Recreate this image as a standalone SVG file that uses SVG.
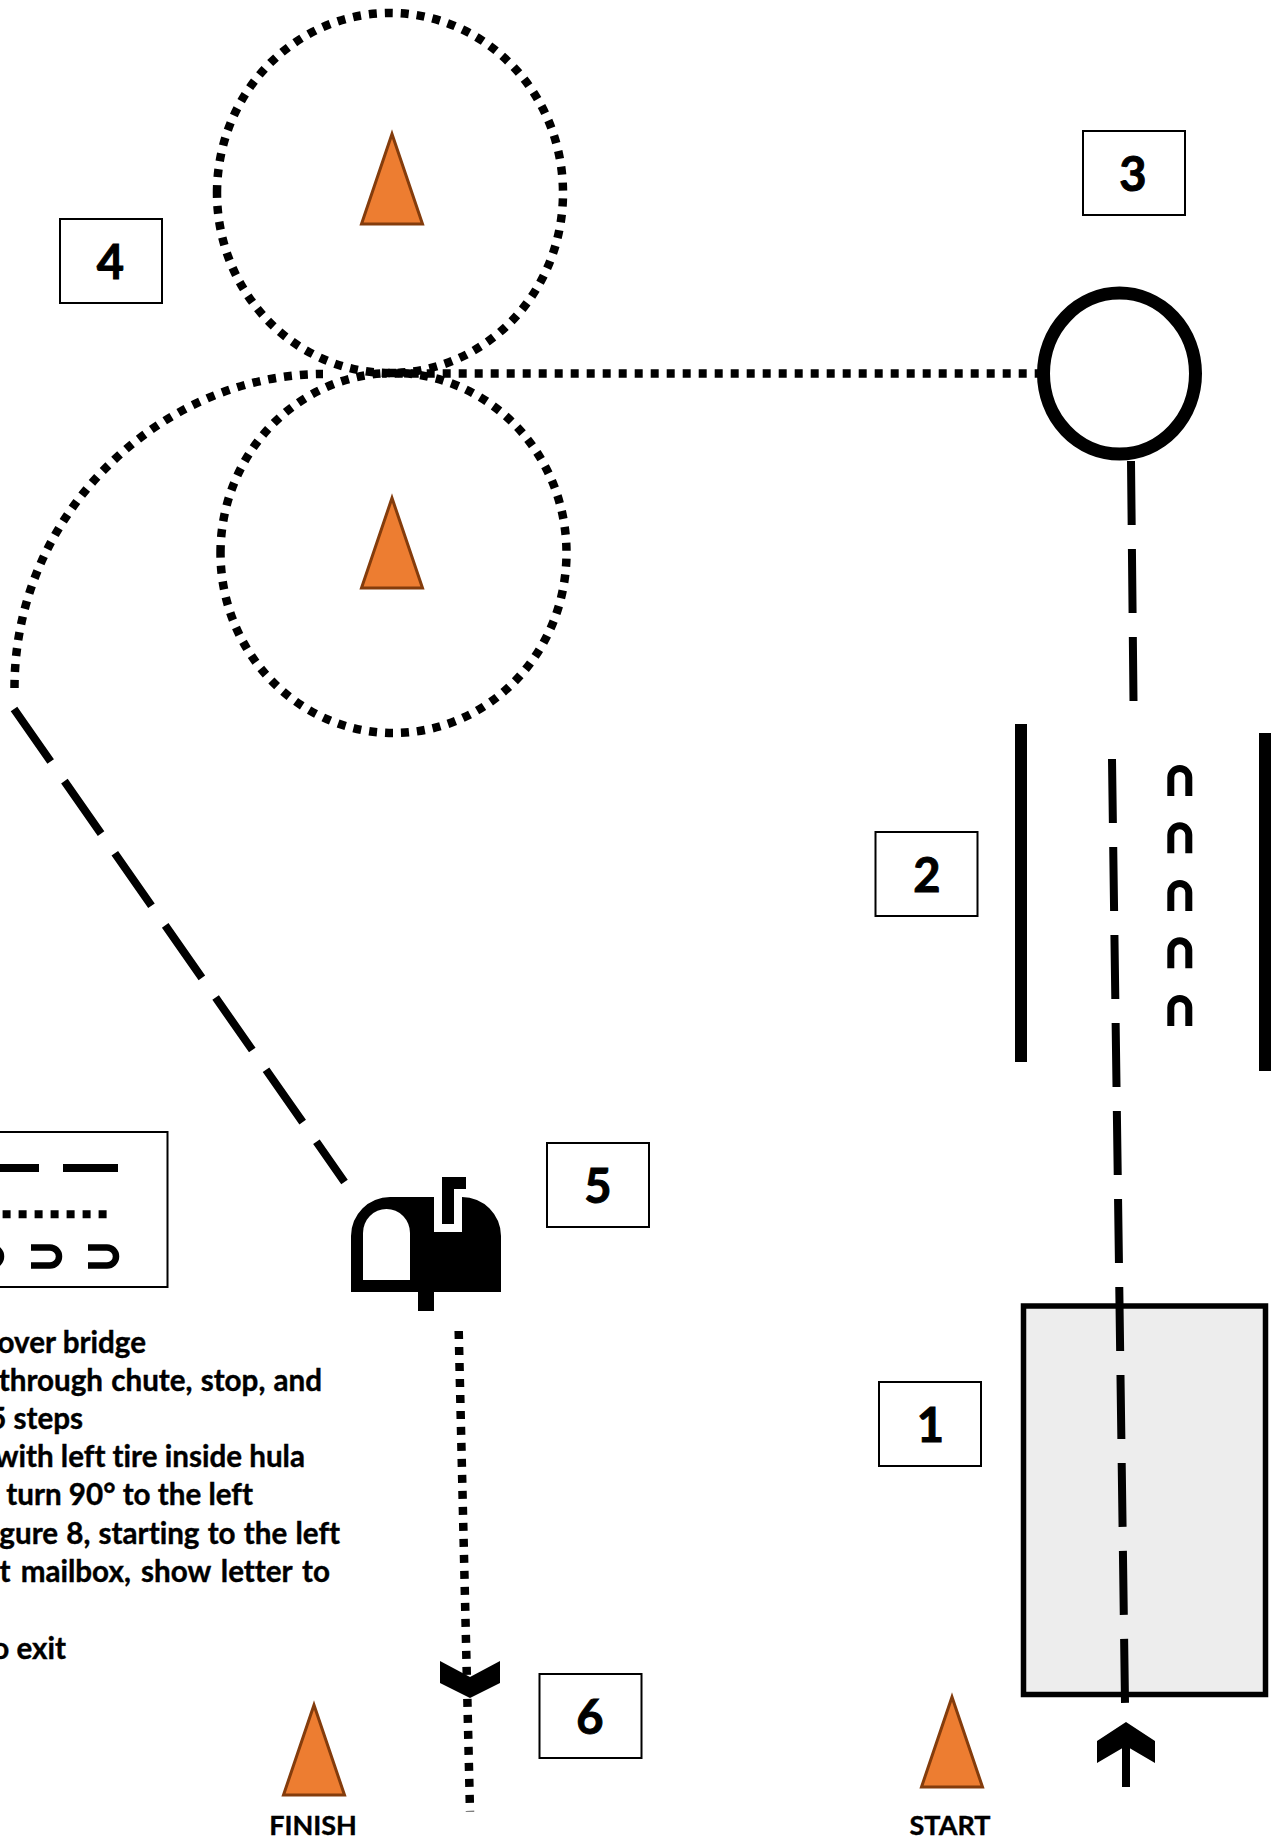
<svg xmlns="http://www.w3.org/2000/svg" width="1275" height="1838" viewBox="0 0 1275 1838">
<style>
text{font-family:"Lato","Open Sans","Liberation Sans",sans-serif;font-weight:700;fill:#000;stroke:#000;font-variant-ligatures:none}
.num{font-size:47px;text-anchor:middle;stroke-width:1}
.cap{font-size:27px;text-anchor:middle;stroke-width:.4}
.rule{font-size:29.600px;text-anchor:end;stroke-width:.4}
.box{fill:#fff;stroke:#000;stroke-width:2}
.cone{fill:#ED7D31;stroke:#843C0C;stroke-width:3}
.dot{fill:none;stroke:#000;stroke-width:8.500;stroke-dasharray:8 8}
.dash{fill:none;stroke:#000;stroke-width:8;stroke-dasharray:64 24}
.horse{fill:none;stroke:#000;stroke-width:7}
</style>
<defs>
<path id="hs" d="M0 31V12.500a9 9 0 0 1 18 0V31"/>
<path id="hr" d="M0 0H19a9 9 0 0 1 0 18H0"/>
<polygon id="cone" points="0,0 30.500,90 -30.500,90"/>
</defs>
<rect width="1275" height="1838" fill="#fff"/>
<g id="node-trailer"><rect x="1023.500" y="1306" width="242" height="388.500" fill="#EDEDED" stroke="#000" stroke-width="5.500"/></g>
<g id="connectors">
<path class="dot" d="M217 193A173 180 0 1 1 563 193A173 180 0 1 1 217 193"/>
<path class="dot" d="M220.500 553A173 180 0 1 1 566.500 553A173 180 0 1 1 220.500 553"/>
<path class="dot" d="M1042.700 373.500H382"/>
<path class="dot" d="M14.500 688C14.500 510 165 374 323 374"/>
<path class="dash" d="M14 709L344.500 1182"/>
<path class="dash" d="M1131 461L1133.500 701"/>
<path class="dash" d="M1112 759L1125 1703"/>
<path class="dot" d="M458.700 1331L470 1811.500"/>
</g>
<g id="node-start-arrow"><polygon points="1126,1722 1155,1741 1155,1763 1126,1746 1097,1763 1097,1741"/><rect x="1122" y="1740" width="8" height="47"/></g>
<g id="node-finish-arrow"><polygon points="440,1661 470,1677 500,1661 500,1683 470,1698 440,1683"/></g>
<g id="node-hula"><ellipse cx="1119.500" cy="373.600" rx="76" ry="80.500" fill="#fff" stroke="#000" stroke-width="13"/></g>
<g id="node-chute">
<rect x="1015" y="724" width="12" height="338"/>
<rect x="1259" y="733" width="12" height="338"/>
<g class="horse">
<use href="#hs" x="1170.800" y="765"/><use href="#hs" x="1170.800" y="822.300"/><use href="#hs" x="1170.800" y="880"/><use href="#hs" x="1170.800" y="937.300"/><use href="#hs" x="1170.800" y="995"/>
</g>
</g>
<g id="node-cone-top"><use href="#cone" class="cone" x="392" y="134"/></g>
<g id="node-cone-bottom"><use href="#cone" class="cone" x="392" y="498"/></g>
<g id="node-cone-finish"><use href="#cone" class="cone" x="314" y="1705"/><text class="cap" x="313" y="1835">FINISH</text></g>
<g id="node-cone-start"><use href="#cone" class="cone" x="952" y="1697"/><text class="cap" x="950" y="1835">START</text></g>
<g id="node-mailbox">
<path d="M351 1292V1236a39 39 0 0 1 39-39H434V1232H462V1197a39 39 0 0 1 39 39V1292H434V1311H418V1292Z"/>
<path fill="#fff" d="M363 1280V1233a23.500 24 0 0 1 47 0V1280Z"/>
<path d="M442 1177H466V1189H454V1224H442Z"/>
</g>
<g id="node-legend">
<rect class="box" x="-20" y="1132" width="187.500" height="155"/>
<path d="M0 1168H39M63 1168H118" stroke="#000" stroke-width="8" fill="none"/>
<path d="M2.600 1214.300H107" stroke="#000" stroke-width="8" stroke-dasharray="8 8" fill="none"/>
<g class="horse" style="stroke-width:6.500">
<use href="#hr" x="-27" y="1247.500"/><use href="#hr" x="31" y="1247.500"/><use href="#hr" x="88" y="1247.500"/>
</g>
</g>
<g id="node-rules">
<text class="rule" x="146" y="1353">over bridge</text>
<text class="rule" x="322" y="1391" word-spacing="1">through chute, stop, and</text>
<text class="rule" x="83" y="1429">5 steps</text>
<text class="rule" x="305" y="1467">with left tire inside hula</text>
<text class="rule" x="253" y="1505">turn 90° to the left</text>
<text class="rule" x="340" y="1544" word-spacing="1">gure 8, starting to the left</text>
<text class="rule" x="330" y="1582" word-spacing="3">t mailbox, show letter to</text>
<text class="rule" x="66" y="1659">o exit</text>
</g>
<g id="node-label-1"><rect class="box" x="879" y="1382" width="102" height="84"/><text class="num" x="930.500" y="1442">1</text></g>
<g id="node-label-2"><rect class="box" x="875.500" y="832" width="102" height="84"/><text class="num" x="927" y="892">2</text></g>
<g id="node-label-3"><rect class="box" x="1083" y="131" width="102" height="84"/><text class="num" x="1133" y="191">3</text></g>
<g id="node-label-4"><rect class="box" x="60" y="219" width="102" height="84"/><text class="num" x="110.500" y="279">4</text></g>
<g id="node-label-5"><rect class="box" x="547" y="1143" width="102" height="84"/><text class="num" x="598" y="1203">5</text></g>
<g id="node-label-6"><rect class="box" x="539.500" y="1674" width="102" height="84"/><text class="num" x="590" y="1734">6</text></g>
</svg>
